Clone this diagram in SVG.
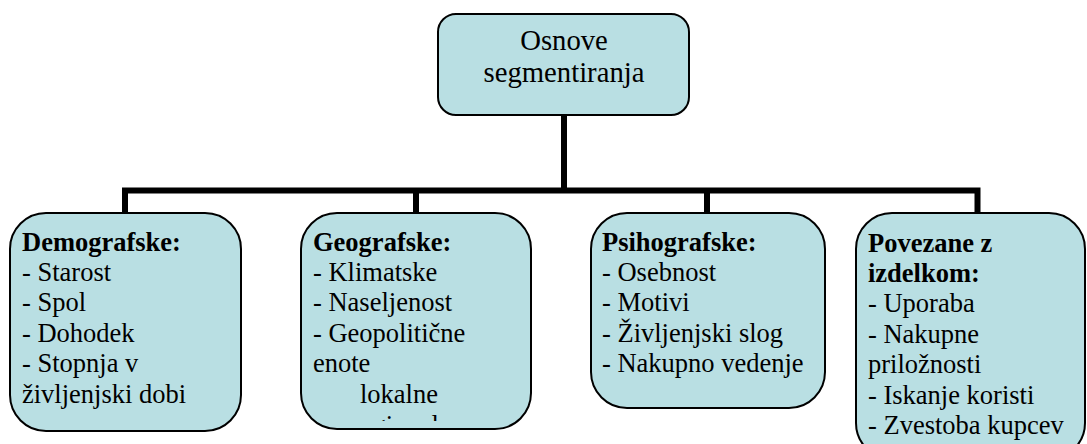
<svg xmlns="http://www.w3.org/2000/svg" width="1087" height="444" viewBox="0 0 1087 444">
<style>
.box{fill:#B9DFE3;stroke:#000;stroke-width:2}
.t{font-family:"Liberation Serif","Times New Roman",serif;font-size:26.5px;fill:#000}
.b{font-weight:bold}
.top{font-family:"Liberation Serif","Times New Roman",serif;font-size:28.7px;fill:#000;text-anchor:middle}
.conn{fill:none;stroke:#000;stroke-width:6;stroke-linejoin:miter}
</style>
<defs>
<clipPath id="clipGeo"><rect x="301" y="213" width="230" height="208"/></clipPath>
</defs>
<g id="connectors">
<path class="conn" d="M564 115 V190.5"/>
<path class="conn" d="M125 213 V190.5 H977.5 V213"/>
<path class="conn" d="M416 190.5 V213"/>
<path class="conn" d="M707 190.5 V213"/>
</g>
<g id="node-root">
<rect class="box" x="438" y="14" width="251" height="101" rx="18"/>
<text class="top" x="564" y="50">Osnove</text>
<text class="top" x="564" y="82">segmentiranja</text>
</g>
<g id="node-demografske">
<rect class="box" x="10" y="213" width="231" height="218" rx="36"/>
<text class="t" x="22" y="250.5"><tspan class="b">Demografske:</tspan><tspan x="22" dy="30.4">- Starost</tspan><tspan x="22" dy="30.4">- Spol</tspan><tspan x="22" dy="30.4">- Dohodek</tspan><tspan x="22" dy="30.4">- Stopnja v</tspan><tspan x="22" dy="30.4">življenjski dobi</tspan></text>
</g>
<g id="node-geografske">
<rect class="box" x="301" y="213" width="230" height="216" rx="36"/>
<text class="t" x="313" y="250.5"><tspan class="b">Geografske:</tspan><tspan x="313" dy="30.4">- Klimatske</tspan><tspan x="313" dy="30.4">- Naseljenost</tspan><tspan x="313" dy="30.4">- Geopolitične</tspan><tspan x="313" dy="30.4">enote</tspan><tspan x="360" dy="30.4">lokalne</tspan></text>
<g clip-path="url(#clipGeo)">
<text class="t" x="352" y="434">regionalne</text>
</g>
</g>
<g id="node-psihografske">
<rect class="box" x="591" y="213" width="234" height="195" rx="36"/>
<text class="t" x="602" y="250.5"><tspan class="b">Psihografske:</tspan><tspan x="602" dy="30.4">- Osebnost</tspan><tspan x="602" dy="30.4">- Motivi</tspan><tspan x="602" dy="30.4">- Življenjski slog</tspan><tspan x="602" dy="30.4">- Nakupno vedenje</tspan></text>
</g>
<g id="node-povezane">
<rect class="box" x="856" y="213" width="229" height="246" rx="36"/>
<text class="t" x="868" y="251.5"><tspan class="b">Povezane z</tspan><tspan class="b" x="868" dy="30.4">izdelkom:</tspan><tspan x="868" dy="30.4">- Uporaba</tspan><tspan x="868" dy="30.4">- Nakupne</tspan><tspan x="868" dy="30.4">priložnosti</tspan><tspan x="868" dy="30.4">- Iskanje koristi</tspan><tspan x="868" dy="30.4">- Zvestoba kupcev</tspan></text>
</g>
</svg>
